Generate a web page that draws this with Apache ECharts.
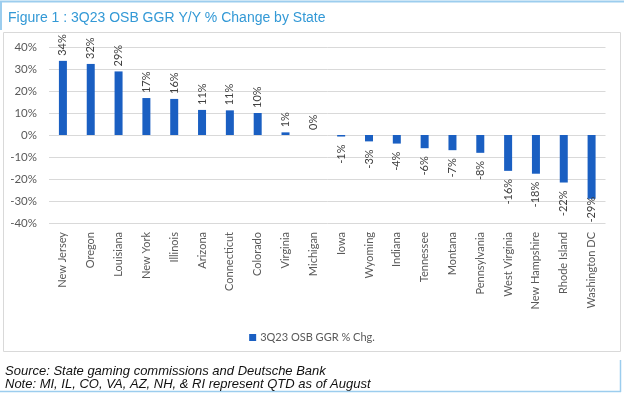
<!DOCTYPE html>
<html>
<head>
<meta charset="utf-8">
<script src="https://cdn.jsdelivr.net/npm/echarts@6/dist/echarts.min.js"></script>
<style>
  html, body { margin: 0; padding: 0; background: #fff; }
  #main { width: 624px; height: 397px; }
</style>
</head>
<body>
<div id="main"></div>
<script>
// states on the x axis
const states = [
  "New Jersey", "Oregon", "Louisiana", "New York", "Illinois", "Arizona",
  "Connecticut", "Colorado", "Virginia", "Michigan", "Iowa", "Wyoming",
  "Indiana", "Tennessee", "Montana", "Pennsylvania", "West Virginia",
  "New Hampshire", "Rhode Island", "Washington DC",
];

// 3Q23 OSB GGR y/y change, %
const ggrChange = [
  33.7, 32.3, 28.9, 16.8, 16.4, 11.4, 11.2, 10.0, 1.2, 0,
  -0.7, -2.9, -3.9, -6.0, -6.9, -8.1, -16.3, -17.6, -21.6, -29.0,
];

// y axis ticks
const yTicks = [-40, -30, -20, -10, 0, 10, 20, 30, 40];

const seriesName = "3Q23 OSB GGR % Chg.";
const blue = "#1a5fc2";
const lineBlue = "#9ccdee";
const grey = "#595959";
const font = "Lato, 'Open Sans', sans-serif";

var myChart = echarts.init(document.getElementById("main"));

// 每根柱子的标签：正数在上，负数在下
const barData = ggrChange.map((v) => {
  const neg = v < 0;
  return {
    value: v,
    label: {
      position: neg ? "bottom" : "top",
      align: neg ? "right" : "left",
      distance: neg ? (v < -25 ? -2 : 8) : 5,
    },
  };
});

var option = {
  animation: false,
  title: {
    text: "Figure 1 : 3Q23 OSB GGR Y/Y % Change by State",
    left: 3,
    top: 6,
    textStyle: {
      fontFamily: "'Liberation Sans', Arial, sans-serif",
      fontSize: 14,
      fontWeight: "normal",
      color: "#3399d6",
    },
  },
  graphic: [
    // title frame
    { type: "line", shape: { x1: 0, y1: 1.5, x2: 624, y2: 1.5 }, style: { stroke: lineBlue, lineWidth: 2 } },
    { type: "line", shape: { x1: 1, y1: 1, x2: 1, y2: 30 }, style: { stroke: lineBlue, lineWidth: 2 } },
    // chart frame
    { type: "rect", shape: { x: 3.5, y: 32.5, width: 617, height: 319 }, style: { fill: "none", stroke: "#d9d9d9", lineWidth: 1 } },
    // footer frame
    { type: "line", shape: { x1: 620.5, y1: 360, x2: 620.5, y2: 392 }, style: { stroke: lineBlue, lineWidth: 1.5 } },
    { type: "line", shape: { x1: 0, y1: 391.5, x2: 621, y2: 391.5 }, style: { stroke: lineBlue, lineWidth: 1.5 } },
    {
      type: "text",
      left: 5,
      top: 365,
      style: {
        text: "Source: State gaming commissions and Deutsche Bank\nNote: MI, IL, CO, VA, AZ, NH, & RI represent QTD as of August",
        font: "italic 13px 'Liberation Sans', Arial, sans-serif",
        fill: "#111",
        lineHeight: 13,
      },
    },
  ],
  legend: {
    data: [seriesName],
    left: "center",
    top: 327,
    icon: "rect",
    itemWidth: 7,
    itemHeight: 7,
    itemGap: 4,
    textStyle: { fontFamily: font, fontSize: 11, color: grey, padding: [0, 0, 0, -1] },
  },
  grid: { left: 49, right: 18.5, top: 47, bottom: 174, containLabel: false },
  xAxis: {
    type: "category",
    data: states,
    axisLine: { show: false, onZero: false },
    axisTick: { show: false },
    axisLabel: {
      rotate: 90,
      interval: 0,
      margin: 9,
      fontFamily: font,
      fontSize: 11,
      color: grey,
    },
  },
  yAxis: {
    type: "value",
    min: yTicks[0],
    max: yTicks[yTicks.length - 1],
    interval: 10,
    axisLabel: {
      formatter: "{value}%",
      margin: 12,
      fontFamily: font,
      fontSize: 11.5,
      color: grey,
    },
    splitLine: { lineStyle: { color: "#d9d9d9", width: 1 } },
    axisLine: { show: false },
    axisTick: { show: false },
  },
  series: [
    {
      name: seriesName,
      type: "bar",
      data: barData,
      barWidth: 8,
      itemStyle: { color: blue },
      label: {
        show: true,
        rotate: 90,
        verticalAlign: "middle",
        fontFamily: font,
        fontSize: 11,
        color: "#404040",
        formatter: (p) => Math.round(p.value) + "%",
      },
    },
  ],
};

myChart.setOption(option);
</script>
</body>
</html>
